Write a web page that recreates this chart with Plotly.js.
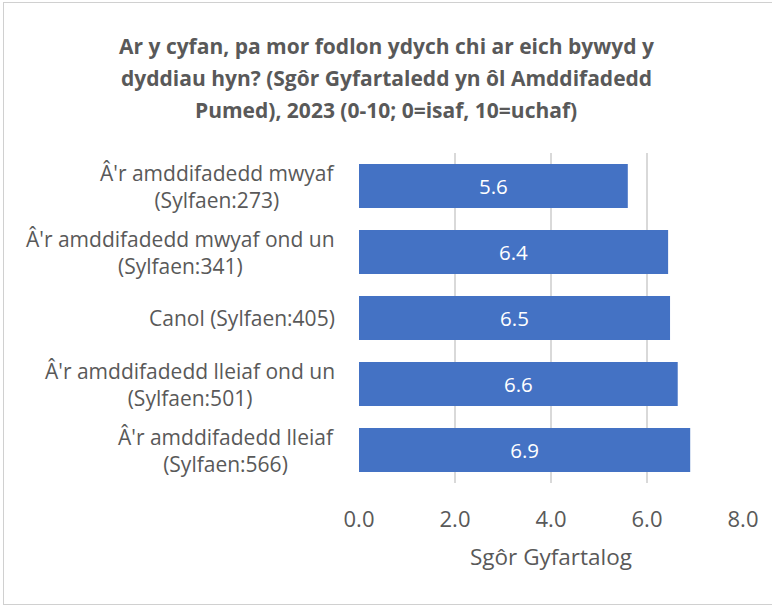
<!DOCTYPE html>
<html>
<head>
<meta charset="utf-8">
<script src="https://cdn.plot.ly/plotly-3.0.1.min.js"></script>
<style>
  html, body { margin: 0; padding: 0; background: #fff; }
  #frame { position: absolute; left: 3px; top: 2px; width: 772px; height: 603px; border: 1.5px solid #d0d0d0; box-sizing: border-box; }
  #chart { position: absolute; left: 0; top: 0; width: 772px; height: 607px; }
</style>
</head>
<body>
<div id="frame"></div>
<div id="chart"></div>
<script>
const categories = [
  "Â'r amddifadedd mwyaf<br>(Sylfaen:273)",
  "Â'r amddifadedd mwyaf ond un<br>(Sylfaen:341)",
  "Canol (Sylfaen:405)",
  "Â'r amddifadedd lleiaf ond un<br>(Sylfaen:501)",
  "Â'r amddifadedd lleiaf<br>(Sylfaen:566)"
];
const scores = [5.6, 6.44, 6.48, 6.64, 6.9];
const xTickVals = [0, 2, 4, 6, 8];
const xTickText = ["0.0", "2.0", "4.0", "6.0", "8.0"];
const titleLines = [
  "Ar y cyfan, pa mor fodlon ydych chi ar eich bywyd y",
  "dyddiau hyn? (Sgôr Gyfartaledd yn ôl Amddifadedd",
  "Pumed), 2023 (0-10; 0=isaf, 10=uchaf)"
];
const xTitle = "Sgôr Gyfartalog";

const FONT = "'Open Sans', sans-serif";
const GREY = "#595959";

// plot area geometry (pixels)
const PL = 359, PR = 743, PT = 153, PB = 483;
const PW = PR - PL, PH = PB - PT;

const trace = {
  type: 'bar',
  orientation: 'h',
  y: categories,
  x: scores,
  marker: { color: '#4472C4' },
  texttemplate: '%{x:.1f}',
  textposition: 'inside',
  insidetextanchor: 'middle',
  textfont: { color: '#ffffff', size: 20.5, family: FONT },
  hoverinfo: 'skip'
};

const annotations = categories.map(c => ({
  xref: 'paper', yref: 'y',
  x: (337 - PL) / PW, y: c,
  xanchor: 'right', yanchor: 'middle',
  align: 'center',
  text: c,
  showarrow: false,
  font: { family: FONT, size: 21, color: GREY }
}));

const titleY = [46, 78, 110];
titleLines.forEach((t, i) => {
  annotations.push({
    xref: 'paper', yref: 'paper',
    x: (386 - PL) / PW, y: 1 + (PT - titleY[i]) / PH,
    xanchor: 'center', yanchor: 'middle',
    text: '<b>' + t + '</b>',
    showarrow: false,
    font: { family: FONT, size: 21, color: GREY }
  });
});

const layout = {
  width: 772, height: 607,
  margin: { l: PL, r: 772 - PR, t: PT, b: 607 - PB },
  paper_bgcolor: 'rgba(0,0,0,0)',
  plot_bgcolor: 'rgba(0,0,0,0)',
  showlegend: false,
  bargap: 0.333,
  xaxis: {
    range: [0, 8],
    tickvals: xTickVals,
    ticktext: xTickText,
    showgrid: true,
    gridcolor: '#d9d9d9',
    gridwidth: 1.5,
    zeroline: false,
    showline: false,
    ticks: '',
    ticklabelstandoff: 21,
    tickfont: { family: FONT, size: 22, color: GREY },
    title: { text: xTitle, standoff: 17, font: { family: FONT, size: 22.5, color: GREY } },
    fixedrange: true
  },
  yaxis: {
    autorange: 'reversed',
    showticklabels: false,
    showgrid: false,
    zeroline: false,
    showline: false,
    ticks: '',
    fixedrange: true
  },
  annotations: annotations
};

Plotly.newPlot('chart', [trace], layout, { displayModeBar: false, staticPlot: true });
</script>
</body>
</html>
